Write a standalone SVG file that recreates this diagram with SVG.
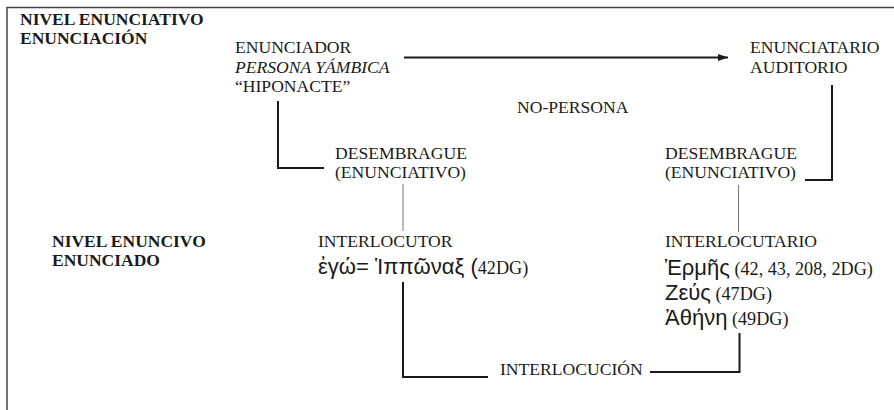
<svg xmlns="http://www.w3.org/2000/svg" width="894" height="410" viewBox="0 0 894 410">
<style>
text{font-family:"Liberation Serif","Times New Roman",serif;font-size:17.6px;fill:#1a1a1a}
.b{font-weight:bold;font-size:17.5px}
.i{font-style:italic}
.g{font-family:"Liberation Sans",Arial,sans-serif;font-size:22px}
.n{font-size:18.2px}
.thick{stroke:#1a1a1a;stroke-width:2;fill:none}
.thin{stroke:#777;stroke-width:1;fill:none}
.frame{stroke:#444;stroke-width:1.5;fill:none}
</style>
<defs>
<marker id="ah" markerWidth="10" markerHeight="8" refX="10" refY="4" orient="auto" markerUnits="userSpaceOnUse">
<path d="M0,0.5 L10,4 L0,7.5 Z" fill="#1a1a1a"/>
</marker>
</defs>
<path class="frame" d="M7,410 V7.5 H894"/>
<g id="level-enunciativo">
<text class="b" x="20" y="25">NIVEL ENUNCIATIVO</text>
<text class="b" x="20" y="44">ENUNCIACIÓN</text>
</g>
<g id="level-enuncivo">
<text class="b" x="52" y="247">NIVEL ENUNCIVO</text>
<text class="b" x="52" y="266">ENUNCIADO</text>
</g>
<g id="enunciador">
<text x="235" y="53">ENUNCIADOR</text>
<text class="i" x="235" y="72.5">PERSONA YÁMBICA</text>
<text x="235" y="92">“HIPONACTE”</text>
</g>
<g id="enunciatario">
<text x="750" y="53">ENUNCIATARIO</text>
<text x="750" y="72.5">AUDITORIO</text>
</g>
<g id="no-persona">
<text x="517" y="113">NO-PERSONA</text>
</g>
<g id="desembrague-left">
<text x="335" y="159">DESEMBRAGUE</text>
<text x="335" y="178">(ENUNCIATIVO)</text>
</g>
<g id="desembrague-right">
<text x="665" y="159">DESEMBRAGUE</text>
<text x="665" y="178">(ENUNCIATIVO)</text>
</g>
<g id="interlocutor">
<text x="318" y="247">INTERLOCUTOR</text>
<text x="318" y="274"><tspan class="g">ἐγώ= Ἱππῶναξ (</tspan><tspan class="n">42DG)</tspan></text>
</g>
<g id="interlocutario">
<text x="665" y="247">INTERLOCUTARIO</text>
<text x="665" y="275"><tspan class="g">Ἑρμῆς</tspan><tspan class="n"> (42, 43, 208, 2DG)</tspan></text>
<text x="665" y="300"><tspan class="g">Ζεύς</tspan><tspan class="n"> (47DG)</tspan></text>
<text x="665" y="325"><tspan class="g">Ἀθήνη</tspan><tspan class="n"> (49DG)</tspan></text>
</g>
<g id="interlocucion">
<text x="500" y="375">INTERLOCUCIÓN</text>
</g>
<g id="connectors">
<line class="thick" x1="404" y1="57.5" x2="728" y2="57.5" marker-end="url(#ah)"/>
<path class="thick" d="M278,101 V168 H324"/>
<path class="thick" d="M805,180 H832 V85"/>
<line class="thin" x1="403" y1="184" x2="403" y2="231"/>
<line class="thin" x1="738.5" y1="185" x2="738.5" y2="232"/>
<path class="thick" d="M403,282 V377 H488"/>
<path class="thick" d="M650,372 H739.5 V333"/>
</g>
</svg>
